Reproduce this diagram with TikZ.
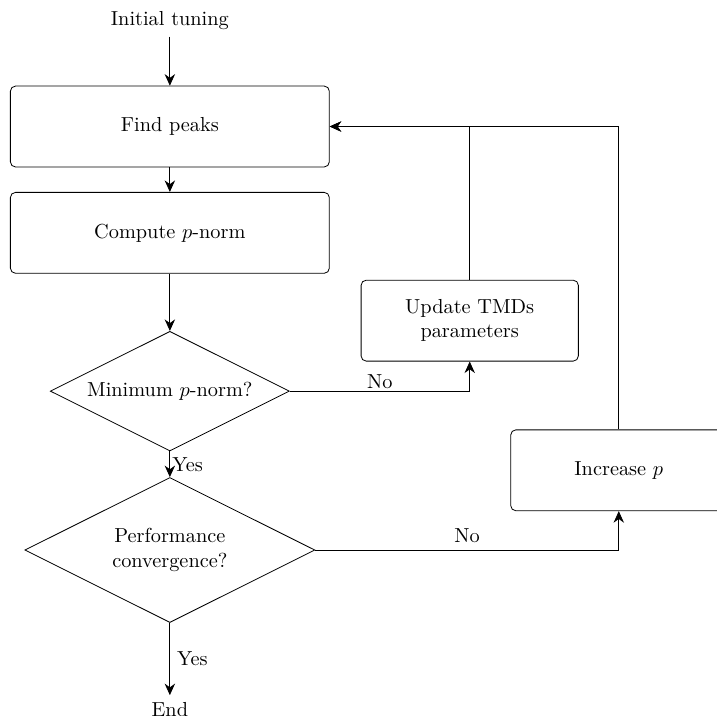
\documentclass[tikz,border=0pt]{standalone}
\usepackage{amsmath,amssymb}
\usepackage{tikz}
\usetikzlibrary{arrows.meta, positioning, calc, shapes.geometric}
\tikzset{
  >=Stealth,
  step box/.style={
    draw, rounded corners=2.5pt, align=center, inner sep=3pt,
    minimum width=#1, minimum height=1.40cm
  },
  step box/.default=5.52cm,
  test/.style={
    draw, diamond, aspect=2, align=center, inner sep=0pt,
    minimum width=#1, minimum height=0.5*#1
  },
  arr/.style={-{Stealth[length=2mm,width=1.8mm]}},
  lab/.style={font=\normalsize}
}
\begin{document}
\begin{tikzpicture}
  \useasboundingbox (0,0) rectangle (12.41,12.38);
  \clip (0,0) rectangle (12.41,12.38);
  % main column
  \node (init) at (2.94,12.03) {Initial tuning};
  \node[step box] (find) at (2.94,10.19) {Find peaks};
  \node[step box] (comp) at (2.94,8.35) {Compute $p$-norm};
  \node[test=4.14cm] (dec1) at (2.94,5.61) {Minimum $p$-norm?};
  \node[test=5.02cm] (dec2) at (2.94,2.86) {Performance\\convergence?};
  \node (end) at (2.94,0.10) {End};
  % right column
  \node[step box=3.76cm] (upd) at (8.13,6.83) {Update TMDs\\parameters};
  \node[step box=3.74cm] (inc) at (10.71,4.24) {Increase $p$};

  \draw[arr] (init) -- (find);
  \draw[arr] (find) -- (comp);
  \draw[arr] (comp) -- (dec1);
  \draw[arr] (dec1) -- node[lab,right,inner sep=1pt] {Yes} (dec2);
  \draw[arr] (dec2) -- node[lab,right] {Yes} (end);
  \draw[arr] (dec1) -| node[lab,pos=0.25,above,inner sep=1pt] {No} (upd);
  \draw[arr] (dec2) -| node[lab,pos=0.25,above] {No} (inc);
  \draw[arr] (upd) |- (find);
  \draw[arr] (inc) |- (find);
\end{tikzpicture}
\end{document}
